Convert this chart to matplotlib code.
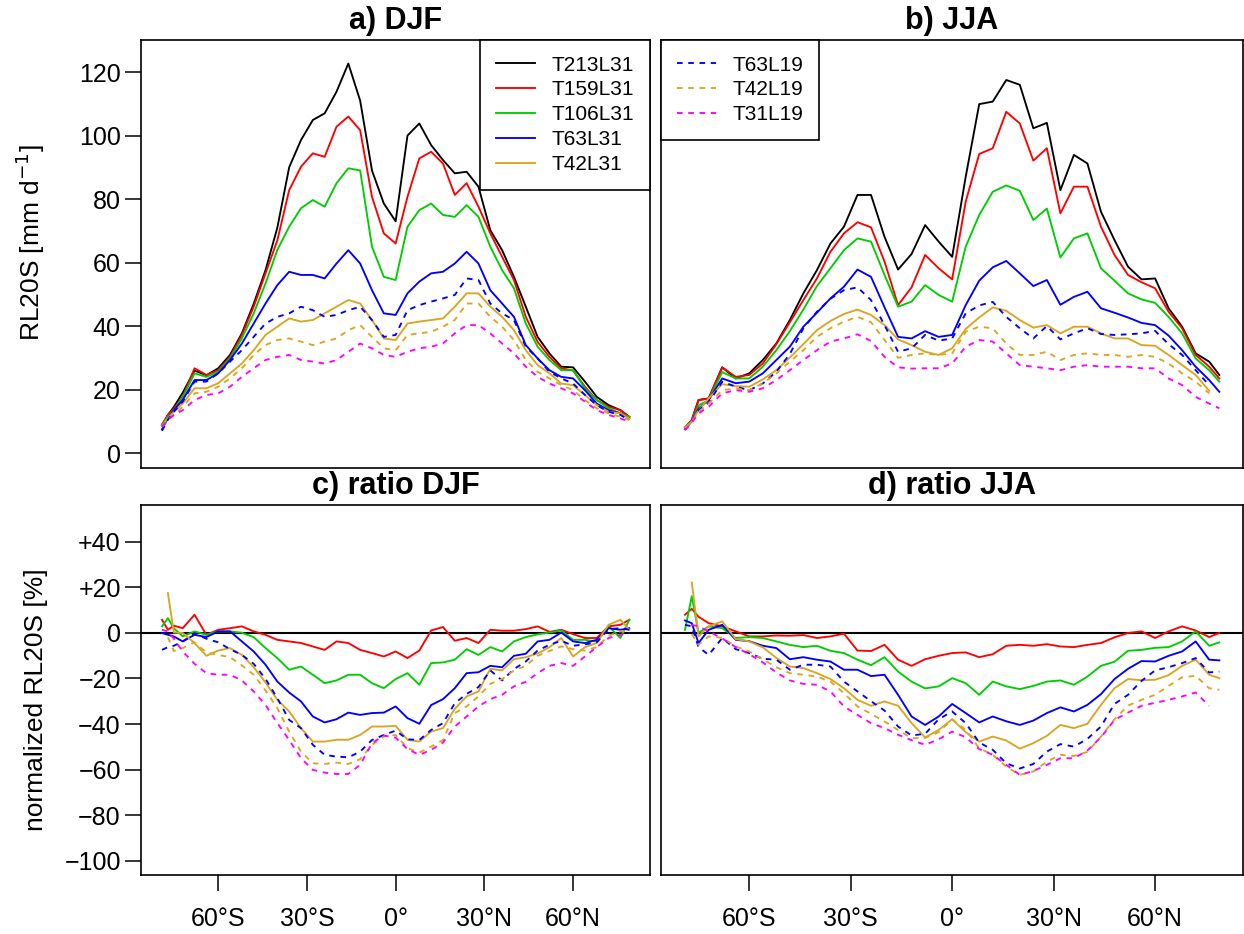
import numpy as np
import matplotlib
matplotlib.use("Agg")
import matplotlib.pyplot as plt
from matplotlib.lines import Line2D

plt.rcParams['font.family'] = ['Liberation Sans', 'DejaVu Sans']

# ---------------- data ----------------
lat = [-79, -77, -75, -72, -68, -64, -60, -56, -52, -48, -44, -40, -36, -32, -28, -24,
       -20, -16, -12, -8, -4, 0, 4, 8, 12, 16, 20, 24, 28, 32, 36, 40, 44, 48, 52, 56,
       60, 64, 68, 72, 76, 79]

models = ["T213L31", "T159L31", "T106L31", "T63L31", "T42L31", "T63L19", "T42L19", "T31L19"]
colors = ["#000000", "#FF0000", "#00CD00", "#0000FF", "#DAA520", "#0000FF", "#DAA520", "#FF00FF"]
dashed = [False, False, False, False, False, True, True, True]

xtick_pos = [-60, -30, 0, 30, 60]
xtick_lab = ["60°S", "30°S", "0°", "30°N", "60°N"]
ytick_top = [0, 20, 40, 60, 80, 100, 120]
ytick_bot = [-100, -80, -60, -40, -20, 0, 20, 40]
ytick_bot_lab = ["\u2212100", "\u221280", "\u221260", "\u221240", "\u221220", "0", "+20", "+40"]

titles = ["a) DJF", "b) JJA", "c) ratio DJF", "d) ratio JJA"]

nan = float('nan')

# a) DJF  RL20S [mm/d]
djf_T213L31 = [8.8, 12, 14.5, 19, 26, 24.5, 26.7, 30.9, 37.7, 47, 57.6, 71, 90, 98.6, 104.9, 107, 113.8, 122.7, 111, 89, 78.6, 73, 100, 103.8, 97, 92.3, 88.1, 88.6, 83.9, 70.2, 63.9, 55.5, 46.1, 36.6, 31.4, 27.2, 27, 22.5, 17.7, 15.1, 13.5, 11.4]
djf_T159L31 = [9, 12, 14, 17.7, 26.7, 24.6, 26.1, 30.3, 37.2, 46.1, 56.6, 67, 82.8, 90.2, 94.4, 93.3, 102.8, 106, 101.7, 80.7, 69.2, 66, 80.7, 92.8, 94.9, 91.2, 81.3, 85, 77.6, 69.2, 61.8, 54.5, 42.9, 35, 30.3, 26.7, 26, 20.9, 16.7, 14.6, 13.5, 11.4]
djf_T106L31 = [8.8, 11.5, 13.5, 17.5, 25.1, 24, 25.6, 29.8, 36.1, 44, 53.4, 64, 71.3, 77.1, 79.7, 77.6, 85, 89.7, 89, 65, 55.5, 54.5, 71.3, 76.5, 78.6, 75, 74.4, 78.1, 74.4, 65, 57.6, 51.9, 40.8, 33.5, 29.3, 26.1, 26.1, 20.4, 16.7, 14.1, 12.5, 11.4]
djf_T63L31 = [7.5, 11, 13.5, 16.7, 23, 23, 25.1, 29.3, 34.5, 40.8, 47.1, 52.9, 57.1, 56.1, 56.1, 55, 59.7, 63.9, 59.7, 51.3, 44, 43.5, 50.3, 54, 56.6, 57.1, 59.7, 63.4, 59.7, 51.3, 47.1, 42.9, 34, 29.8, 26.1, 24, 23.5, 19.8, 15.6, 13.5, 12.5, 10.9]
djf_T42L31 = [8.5, 11, 13, 15.6, 20.4, 20.4, 22, 25.1, 28.2, 32.4, 37.2, 39.8, 42.4, 41.4, 41.9, 44, 46.1, 48.2, 47.1, 41.9, 36.1, 35.6, 40.8, 41.4, 41.9, 42.4, 46.1, 50.3, 50.3, 46.1, 42.9, 38.7, 32.4, 27.7, 25.1, 21.9, 21.4, 18.3, 15.1, 13, 12.5, 10.9]
djf_T63L19 = [7, 10.5, 13, 16.2, 22.5, 22.5, 25.1, 28.8, 32.4, 36.6, 40.8, 42.9, 44, 46.1, 45, 42.9, 43.5, 45, 46.1, 41.9, 36.6, 37.2, 45, 46.6, 47.7, 48.7, 49.8, 55, 54.5, 47.1, 44, 41.9, 33.5, 29.8, 25.6, 23.5, 21.9, 18.3, 15.1, 13, 12, 10.4]
djf_T42L19 = [8.3, 10.3, 12, 14.6, 18.8, 19.3, 20.9, 23.5, 26.7, 30.9, 34, 35.6, 36.1, 35.1, 34, 35.1, 36.1, 38.7, 40.3, 36.6, 33, 32.4, 37.2, 37.7, 38.2, 39.8, 41.9, 47.1, 47.1, 42.9, 39.8, 35.6, 29.3, 25.6, 23.5, 21.4, 19.8, 16.7, 14.1, 12.5, 11.4, 10.4]
djf_T31L19 = [8.3, 10.5, 12, 13.5, 16.7, 18.3, 18.8, 20.9, 24, 26.7, 29.3, 30.3, 30.9, 29.3, 28.8, 28.2, 29.3, 31.9, 34.5, 33, 30.9, 30.3, 31.9, 33, 33.5, 34.5, 37.7, 40.3, 40.3, 37.7, 34.5, 31.4, 27.2, 24, 21.9, 20.4, 18.8, 16.2, 13.5, 12, 10.9, 9.9]

# b) JJA  RL20S [mm/d]
jja_T213L31 = [8, 10.4, 16.7, 17.2, 27, 23.5, 25.1, 29.3, 34.5, 41.9, 50.3, 57.6, 66, 71.3, 81.3, 81.3, 68.1, 57.8, 62.7, 71.8, 66.6, 61.8, 87, 109.9, 110.7, 117.5, 116, 102.3, 104, 82.8, 93.9, 91.2, 76, 67.1, 58.7, 54.7, 55, 45.6, 39.8, 31.4, 28.8, 24.6]
jja_T159L31 = [8, 10.4, 16.7, 17.2, 27, 24, 24.6, 28.2, 34.3, 41.2, 48.2, 55, 63.4, 69.2, 72.7, 71.1, 60.3, 46.6, 52.2, 62.4, 58.2, 54.7, 79.2, 94.2, 96, 107.5, 103.8, 92.1, 96, 75.5, 83.9, 83.9, 71.3, 62.4, 56.1, 53.8, 51.9, 44.5, 39.3, 30.9, 27.2, 23.5]
jja_T106L31 = [7.8, 10, 15, 16.7, 25.5, 23.5, 23.5, 27.2, 32.4, 38.4, 45.2, 52.6, 58.2, 63.9, 67.6, 66.6, 56.1, 46.1, 47.7, 52.9, 49.8, 47.7, 65, 75, 82.3, 84.3, 82.6, 73.4, 77, 61.6, 67.6, 69.2, 58.2, 54.3, 50.3, 48.4, 47.3, 42.9, 37.7, 29.8, 26.1, 22.5]
jja_T63L31 = [7.5, 10, 14, 16.7, 23.5, 22, 22.5, 25.1, 29.3, 33.5, 39.8, 44.2, 48.7, 52.4, 57.8, 55.5, 45.9, 36.6, 36.1, 38.4, 36.6, 37.2, 46.6, 54.3, 58.5, 60.5, 56.6, 52.6, 54.5, 46.7, 49.2, 50.8, 45.6, 44.2, 42.7, 41, 40.3, 37, 32.4, 27.2, 23, 19.3]
jja_T42L31 = [7.8, 10, 13.5, 17.2, 21.7, 21.1, 20.9, 23.2, 26.1, 30.1, 34.3, 38.7, 41.6, 43.8, 45.2, 43.5, 40.3, 35.8, 34, 31.9, 30.9, 33, 39.1, 42.7, 45.9, 44.8, 41.9, 39.5, 40.3, 37.7, 39.8, 39.8, 37.7, 36.1, 36.1, 34, 33.8, 30.9, 27.7, 24.6, 19.6, nan]
jja_T63L19 = [7.5, 10, 13.5, 15.9, 22.5, 20.9, 19.8, 21.9, 25.6, 31.2, 39.3, 44.5, 48.6, 51.3, 52.2, 48.2, 40.3, 31.9, 33, 37.2, 35.4, 36.1, 44, 46.5, 47.6, 42.9, 39.3, 36.1, 40, 35.8, 37.7, 39.3, 37.5, 37.2, 37.4, 37.7, 38.5, 34.3, 30.9, 26.1, 21.4, nan]
jja_T42L19 = [7.8, 10, 13, 15.6, 19.8, 20.4, 19.8, 21.9, 25.1, 28.8, 32.4, 36.6, 39.3, 41.4, 42.9, 41.2, 35.6, 30, 30.9, 31.4, 30.9, 31.4, 38.2, 39.8, 39.3, 34.5, 30.9, 30.9, 31.9, 29.3, 30.9, 31.4, 30.9, 30.9, 30.3, 30.9, 30.3, 28.2, 25.1, 22.5, 18.8, nan]
jja_T31L19 = [7.2, 9.5, 12.5, 14.6, 18.8, 19.8, 19.3, 20.4, 23, 26.1, 29.3, 32.4, 35.1, 36.1, 37.4, 35.3, 30.3, 27, 26.6, 26.7, 26.7, 28.2, 33.5, 35.6, 35.1, 31.4, 27.7, 27.2, 26.7, 26.1, 27.2, 27.7, 27.2, 27.2, 27.2, 26.7, 26.7, 23.5, 21.4, 17.7, 15.6, 14.1]

# c) ratio DJF [%] (relative to T213L31)
rdjf_T159L31 = [5.7, 1.3, 3.1, 2, 7.9, -0.9, 1.3, 2, 2.8, 0.6, -0.9, -3.1, -3.8, -4.5, -6, -7.5, -3.8, -4.5, -7.5, -8.9, -10.4, -8.2, -11.1, -7.8, 1, 2.5, -3.5, -2.3, -4.5, 1.3, 0.9, 0.9, 1.6, 2.8, 0.4, 1.3, -0.6, -2.3, -2.3, 2.8, 3.5, 5.7]
rdjf_T106L31 = [2.8, 6.4, 2, -1.6, 0.6, -0.9, 0.6, 0.6, 0, -1.9, -6.7, -11.1, -16.2, -14.8, -18.4, -22.1, -20.9, -18.4, -18.4, -22.1, -24.3, -20.3, -17.7, -22.8, -13.3, -13, -11.8, -7.2, -9.7, -6.3, -8.2, -3.8, -1.9, -0.7, 0.1, 1, -3.1, -3.1, -3.8, 2.8, -2.3, 5.7]
rdjf_T63L31 = [-0.1, -0.9, -1.6, -3.8, -0.9, -1.9, 0.6, 0.6, -3.8, -8.2, -14, -21.4, -26.2, -30.1, -36.7, -39.3, -37.9, -35, -36, -35.2, -35, -32.3, -37.4, -39.9, -31.7, -29.1, -24.3, -17.7, -17.3, -14.5, -15.1, -10.1, -9.2, -3.8, -3.1, 0.1, -3.8, -4.5, -3.1, 2, 1.3, 2]
rdjf_T42L31 = [nan, 17.4, 0.1, -0.1, -4.5, -10.1, -7.8, -6.7, -9.7, -15.1, -21.8, -29.4, -34.5, -41.8, -47.7, -47.7, -46.9, -46.9, -44.8, -41.1, -41.1, -40.8, -46.9, -47.7, -43.3, -41.8, -33.3, -27.9, -25.7, -15.8, -16.5, -11.6, -10.7, -9.1, -6.3, -2.3, -10.4, -6.3, -4.5, 3.5, 5.7, 1.3]
rdjf_T63L19 = [-7.5, -6.3, -5.7, -3.8, -0.4, -2.6, -4.2, -7.2, -9.7, -13.6, -20.2, -28.7, -38.2, -41.8, -49.1, -53.5, -54.3, -54.6, -52.1, -47, -44.8, -42.9, -46.7, -47, -42.6, -39.6, -30.9, -26.8, -23.8, -16.5, -20.9, -15.9, -12.6, -7.8, -5.3, -3.5, -5.7, -5.1, -4.2, 1.6, 2, 1.3]
rdjf_T42L19 = [nan, -2, -8, -6.7, -4.2, -8.6, -9.7, -10.7, -14.3, -18.4, -25.3, -33, -43.3, -52.1, -57.2, -57.5, -56.9, -57.5, -55.4, -49.1, -45.5, -44.8, -50.6, -52.5, -49.9, -47, -35.2, -32.3, -27.9, -22.4, -20.3, -16.5, -14.5, -10.1, -8, -6, -7.2, -7.8, -6.3, -1.3, 0.6, 0.6]
rdjf_T31L19 = [1.3, 0.6, -2.6, -8.2, -13.6, -17.7, -18.4, -18.4, -20.9, -25.7, -31.6, -39.6, -47, -55, -60.1, -61.3, -61.9, -61.9, -57.9, -48.4, -45, -46, -51, -53.5, -51.3, -48.1, -41.1, -36.7, -32.3, -29.1, -27.2, -23.5, -21.5, -17.7, -14.5, -13.3, -14.5, -10.4, -6.3, -2.3, -0.9, -0.1]

# d) ratio JJA [%]
rjja_T159L31 = [7.9, 10.5, 7, 4.2, 2.8, 0.6, -1.6, -1.6, -1.2, -1.3, -1, -2.3, -1.6, -0.4, -7.8, -8, -5.3, -11.8, -14.5, -11.6, -10.1, -8.9, -8.6, -10.7, -9.4, -5.7, -5.3, -5.7, -5, -6, -6.3, -5.3, -4.5, -2, -0.1, 0.6, -2.3, 0.6, 2.8, 1, -1.9, -0.1]
rjja_T106L31 = [1.3, 16, 0, 2.8, 2, -2.3, -1.9, -2.3, -3.8, -5.3, -6.3, -5.7, -7.9, -8.9, -11.8, -14.2, -10.7, -17, -21.4, -24.4, -23.5, -19.9, -22.1, -27.2, -21.4, -23.5, -24.7, -23.3, -21.4, -20.9, -22.8, -19.2, -14.5, -12.7, -7.9, -7.5, -6.6, -6.3, -3.8, 0.6, -5.7, -4.2]
rjja_T63L31 = [5.4, 4.2, -4.5, 1.3, 3.5, -3.1, -3.7, -5.7, -6.7, -11.6, -10.7, -11.8, -12.6, -16.2, -16.2, -19, -18.4, -27.2, -36.7, -40.4, -36.7, -31.2, -35.2, -39.3, -36.7, -38.8, -40.4, -38.5, -35.2, -32.7, -34.5, -31.6, -26.9, -20.3, -15.8, -12.4, -12.6, -10.1, -8.2, -3.8, -11.8, -12.1]
rjja_T42L31 = [nan, 22, -1.6, 2.8, 5, -2.8, -3.8, -6.4, -11, -14.8, -15.5, -17.7, -20.3, -24.3, -29.4, -32, -30.1, -32, -39.6, -45.9, -42.6, -37.9, -43.6, -47.7, -45.5, -47.2, -50.8, -48.4, -45.2, -40.4, -41.8, -39.9, -31.6, -24.3, -20.3, -20.8, -20.6, -18.6, -14.5, -11.8, -18.4, -19.9]
rjja_T63L19 = [3.5, 2.8, -6.3, -9.7, -2.3, -7.2, -8.9, -11.4, -11.8, -16.2, -14, -14, -14.8, -21.4, -25.7, -30, -34.1, -41.1, -45, -44.3, -37.9, -34.5, -39.6, -48.1, -51.3, -57.2, -59.5, -57.5, -52.1, -48.8, -49.9, -46.5, -41.1, -31.2, -27.2, -21.1, -16.5, -15.1, -13.3, -11.1, -17.4, -17]
rjja_T42L19 = [nan, -0.5, -5.3, -1.6, -2.2, -6, -8.2, -11.6, -15.1, -17.7, -18.4, -19.2, -21.4, -26.5, -32.3, -35.5, -38.9, -42.6, -46.2, -46.1, -43.6, -37.9, -42.6, -50.6, -53.5, -58.7, -62.3, -60.8, -56.5, -53.5, -54, -52.2, -45.5, -37.9, -31.9, -29.4, -27.2, -23.3, -19.5, -18.9, -24.3, -25]
rjja_T31L19 = [nan, 3.5, 2.8, 0.6, -2.5, -6.3, -9.4, -13, -17.4, -20.9, -22.4, -22.8, -25.7, -32.3, -36, -39.6, -41.8, -44.7, -47.1, -49.1, -46.7, -43.3, -45.8, -51, -53.5, -57.9, -62.3, -60.6, -57.9, -55, -55, -51.6, -45.8, -38.2, -35, -32, -30.7, -29.4, -27.9, -26.2, -32, nan]

djf = [djf_T213L31, djf_T159L31, djf_T106L31, djf_T63L31, djf_T42L31, djf_T63L19, djf_T42L19, djf_T31L19]
jja = [jja_T213L31, jja_T159L31, jja_T106L31, jja_T63L31, jja_T42L31, jja_T63L19, jja_T42L19, jja_T31L19]
rdjf = [None, rdjf_T159L31, rdjf_T106L31, rdjf_T63L31, rdjf_T42L31, rdjf_T63L19, rdjf_T42L19, rdjf_T31L19]
rjja = [None, rjja_T159L31, rjja_T106L31, rjja_T63L31, rjja_T42L31, rjja_T63L19, rjja_T42L19, rjja_T31L19]

# ---------------- layout ----------------
W, H = 1244, 934
fig = plt.figure(figsize=(W / 100, H / 100), dpi=100)


def rect(x0, y0, x1, y1):
    return [x0 / W, 1 - y1 / H, (x1 - x0) / W, (y1 - y0) / H]


axA = fig.add_axes(rect(141, 40, 650, 468.3))
axB = fig.add_axes(rect(661, 40, 1243, 468.3))
axC = fig.add_axes(rect(141, 505, 650, 874.6))
axD = fig.add_axes(rect(661, 505, 1243, 874.6))

LW = 1.35
DASH = (0, (3.0, 3.0))


def style(i):
    return dict(color=colors[i], lw=LW, linestyle=DASH if dashed[i] else '-')


for ax in (axA, axB, axC, axD):
    ax.set_xlim(-86.1, 86.0)
    for s in ax.spines.values():
        s.set_linewidth(1.2)
        s.set_color('black')
    ax.tick_params(direction='out', length=11.5, width=1.1, labelsize=18, pad=3)
    ax.set_xticks([])
    ax.set_yticks([])

for ax in (axA, axB):
    ax.set_ylim(-4.8, 130.1)
for ax in (axC, axD):
    ax.set_ylim(-106, 56)
    ax.axhline(0, color='black', lw=1.5, zorder=1)

for i in range(len(models)):
    axA.plot(lat, djf[i], zorder=2, **style(i))
    axB.plot(lat, jja[i], zorder=2, **style(i))
    if rdjf[i] is not None:
        axC.plot(lat, rdjf[i], zorder=2, **style(i))
        axD.plot(lat, rjja[i], zorder=2, **style(i))

# y axes
axA.set_yticks(ytick_top)
axA.set_yticklabels([str(v) for v in ytick_top])
axC.set_yticks(ytick_bot)
axC.set_yticklabels(ytick_bot_lab)

# x axes
for ax in (axC, axD):
    ax.set_xticks(xtick_pos)
    ax.set_xticklabels(xtick_lab)
    ax.tick_params(axis='x', pad=12)

# titles
for ax, t in zip((axA, axB, axC, axD), titles):
    ax.set_title(t, fontsize=22, fontweight='bold', pad=8)

# y labels
fig.text(30 / W, 1 - 243 / H, r"RL20S [mm d$^{-1}$]", rotation=90,
         ha='center', va='center', fontsize=19)
fig.text(36 / W, 1 - 700 / H, "normalized RL20S [%]", rotation=90,
         ha='center', va='center', fontsize=19)

# legends
def handles(idx):
    return [Line2D([0], [0], **style(i)) for i in idx]


legkw = dict(fontsize=15, frameon=True, fancybox=False, edgecolor='black',
             framealpha=1, borderaxespad=0, handlelength=1.9, handletextpad=0.8,
             borderpad=0.75, labelspacing=0.28)
legA = axA.legend(handles([0, 1, 2, 3, 4]), models[:5], loc='upper right', **legkw)
legB = axB.legend(handles([5, 6, 7]), models[5:], loc='upper left', **legkw)
for lg in (legA, legB):
    lg.get_frame().set_linewidth(1.2)

fig.savefig("out.png", dpi=100)
